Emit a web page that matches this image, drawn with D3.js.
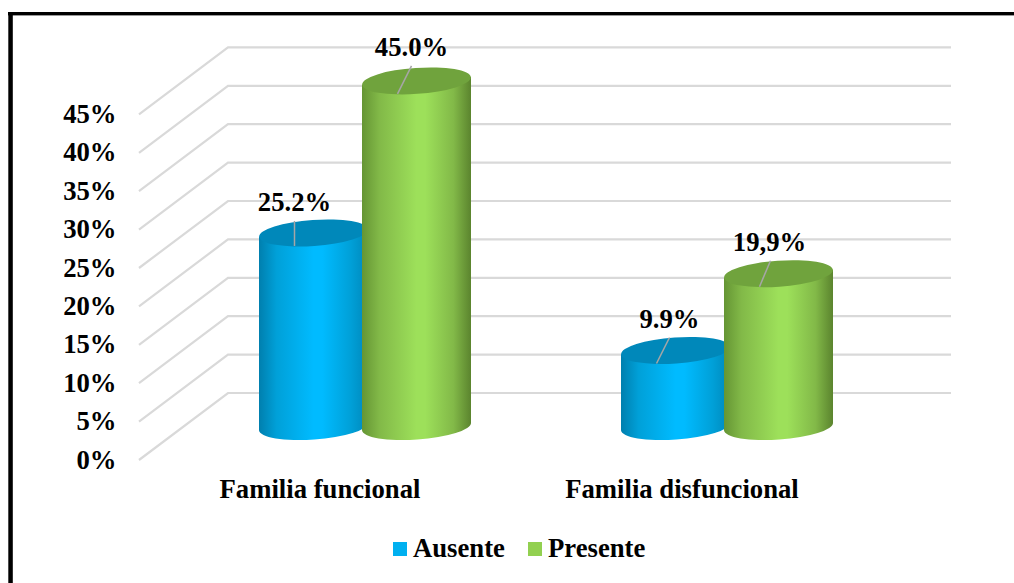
<!DOCTYPE html>
<html>
<head>
<meta charset="utf-8">
<script src="https://cdn.jsdelivr.net/npm/d3@7"></script>
<style>
  html, body { margin: 0; padding: 0; background: #fff; overflow: hidden; }
  svg { display: block; }
  text { font-family: "Liberation Serif", "Times New Roman", serif; font-weight: bold; fill: #000; }
</style>
</head>
<body>
<svg id="chart" width="1014" height="583"></svg>
<script>
// Chart content
const categories = ["Familia funcional", "Familia disfuncional"];
const seriesNames = ["Ausente", "Presente"];
const ausente = [25.2, 9.9];
const presente = [45.0, 19.9];
const ausenteLabels = ["25.2%", "9.9%"];
const presenteLabels = ["45.0%", "19,9%"];
const tickValues = [0, 5, 10, 15, 20, 25, 30, 35, 40, 45];

const svg = d3.select("#chart");
const defs = svg.append("defs");
const fontSize = 26.7;

// Frame: heavy rule along the top and the left edge only
svg.append("rect").attr("x", 8).attr("y", 12).attr("width", 1006).attr("height", 3.4).attr("fill", "#000");
svg.append("rect").attr("x", 8.3).attr("y", 12).attr("width", 4.5).attr("height", 571).attr("fill", "#000");

// Vertical scales: bars sit on the floor's mid-depth, gridlines on the back wall
const unit = 7.68 * 45;
const yBar = d3.scaleLinear().domain([0, 45]).range([426.5, 426.5 - unit]);
const yBack = d3.scaleLinear().domain([0, 45]).range([393, 393 - unit]);
const depth = { dx: 89, dy: 67 };
const wall = { left: 228, right: 951 };

// Horizontal scales
const x0 = d3.scaleBand().domain(categories).range([184, 908]);
const x1 = d3.scaleBand().domain(seriesNames).range([-103, 103]);
const barWidth = 109;
const rx = barWidth / 2, ry = 13, tilt = -4;
const tan = Math.tan(tilt * Math.PI / 180);

// Gridlines: floor/side diagonal plus the back wall run
const grid = svg.append("g").attr("fill", "none").attr("stroke", "#D9D9D9").attr("stroke-width", 2.2);
grid.selectAll("path").data(tickValues).join("path")
  .attr("d", v => {
    const p = d3.path();
    p.moveTo(wall.left - depth.dx, yBack(v) + depth.dy);
    p.lineTo(wall.left, yBack(v));
    p.lineTo(wall.right, yBack(v));
    return p.toString();
  });

// Value axis labels
svg.append("g").selectAll("text").data(tickValues).join("text")
  .attr("x", 116.5)
  .attr("y", v => yBack(v) + depth.dy + 8.5)
  .attr("text-anchor", "end")
  .attr("font-size", fontSize)
  .text(v => v + "%");

// Cylinder side shading
function sideGradient(id, edgeL, mid, bright, edgeR) {
  const g = defs.append("linearGradient").attr("id", id).attr("x1", 0).attr("x2", 1).attr("y1", 0).attr("y2", 0);
  [[0, edgeL], [0.16, mid], [0.5, bright], [0.58, bright], [0.84, mid], [1, edgeR]].forEach(([o, c]) =>
    g.append("stop").attr("offset", o).attr("stop-color", c));
}
sideGradient("sideAusente", "#007FAE", "#00A0D8", "#00BBFF", "#0088BA");
sideGradient("sidePresente", "#659534", "#82B948", "#9DE05A", "#5B842E");
const topColor = { Ausente: "#0088BA", Presente: "#70A33D" };

// One record per bar; blue drawn first so the green cylinder overlaps it
const leaderTips = { "Ausente": [[0, 25], [13, 26]], "Presente": [[14, 28], [11, 26]] };
const bars = [];
[[seriesNames[0], ausente, ausenteLabels], [seriesNames[1], presente, presenteLabels]].forEach(([name, vals, labels]) => {
  vals.forEach((v, i) => bars.push({
    name, value: v, label: labels[i],
    cx: x0(categories[i]) + x0.bandwidth() / 2 + x1(name) + x1.bandwidth() / 2,
    tip: leaderTips[name][i]
  }));
});

const barG = svg.append("g").selectAll("g").data(bars).join("g");

barG.append("path")
  .attr("fill", d => `url(#side${d.name})`)
  .attr("d", d => {
    const t = yBar(d.value), b = yBar(0);
    return `M${d.cx - rx},${t - tan * rx}` +
           `L${d.cx - rx},${b - tan * rx}` +
           `A${rx},${ry} ${tilt} 0 0 ${d.cx + rx},${b + tan * rx}` +
           `L${d.cx + rx},${t + tan * rx}Z`;
  });

barG.append("ellipse")
  .attr("cx", d => d.cx).attr("cy", d => yBar(d.value))
  .attr("rx", rx).attr("ry", ry)
  .attr("transform", d => `rotate(${tilt} ${d.cx} ${yBar(d.value)})`)
  .attr("fill", d => topColor[d.name]);

// Leader lines and value labels
const leaderBase = { dx: -19, dy: 13 };
const annot = svg.append("g").selectAll("g").data(bars).join("g");
annot.append("line")
  .attr("x1", d => d.cx + leaderBase.dx)
  .attr("y1", d => yBar(d.value) + leaderBase.dy)
  .attr("x2", d => d.cx + leaderBase.dx + d.tip[0])
  .attr("y2", d => yBar(d.value) + leaderBase.dy - d.tip[1])
  .attr("stroke", "#A6A6A6").attr("stroke-width", 1.5);
annot.append("text")
  .attr("x", d => d.cx + leaderBase.dx + d.tip[0] - (d.label === "19,9%" ? 1 : 0))
  .attr("y", d => yBar(d.value) + leaderBase.dy - d.tip[1] - 9.5)
  .attr("text-anchor", "middle")
  .attr("font-size", fontSize)
  .text(d => d.label);

// Category labels, centred on the front edge of each group
svg.append("g").selectAll("text").data(categories).join("text")
  .attr("x", c => x0(c) + x0.bandwidth() / 2 - 45)
  .attr("y", 498)
  .attr("text-anchor", "middle")
  .attr("font-size", fontSize)
  .text(c => c);

// Legend
const legendX = d3.scaleOrdinal().domain(seriesNames).range([393, 528]);
const legendColor = d3.scaleOrdinal().domain(seriesNames).range(["#00B0F0", "#92D050"]);
const legend = svg.append("g").selectAll("g").data(seriesNames).join("g");
legend.append("rect")
  .attr("x", d => legendX(d)).attr("y", 542).attr("width", 14).attr("height", 14)
  .attr("fill", d => legendColor(d));
legend.append("text")
  .attr("x", d => legendX(d) + 20).attr("y", 556.5)
  .attr("font-size", fontSize)
  .text(d => d);
</script>
</body>
</html>
